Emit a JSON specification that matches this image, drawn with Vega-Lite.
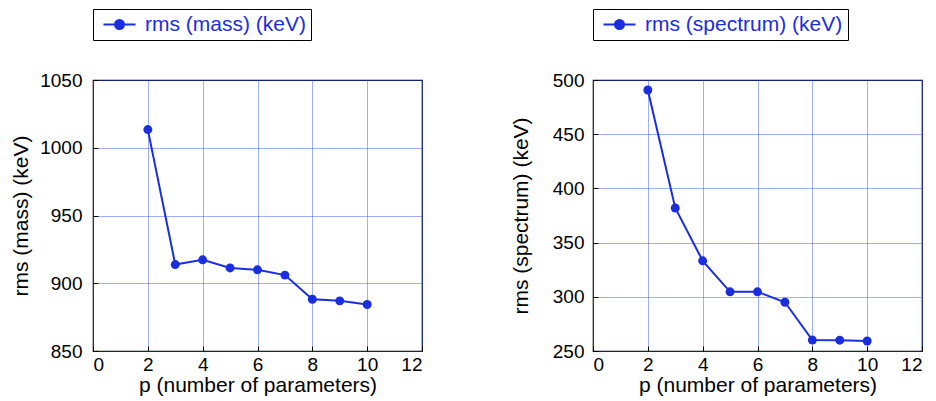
{
  "$schema": "https://vega.github.io/schema/vega-lite/v6.json",
  "padding": {"left": 10, "top": 7, "right": 5, "bottom": 4},
  "background": "white",
  "config": {
    "font": "Liberation Sans",
    "view": {"stroke": "black", "strokeWidth": 1.2},
    "axis": {
      "labelFontSize": 19,
      "titleFontSize": 21,
      "titleFontWeight": "normal",
      "labelColor": "black",
      "titleColor": "black",
      "domain": false,
      "ticks": true,
      "tickSize": -5,
      "tickColor": "black",
      "tickWidth": 1,
      "grid": true,
      "gridColor": "#2a4ef0",
      "gridDash": [1, 1],
      "gridWidth": 1,
      "gridOpacity": 0.9,
      "format": "d"
    },
    "axisX": {"labelPadding": 9, "titlePadding": 0},
    "axisY": {"labelPadding": 16},
    "legend": {
      "labelFontSize": 21,
      "labelColor": "#1a2ee0",
      "labelLimit": 400,
      "strokeColor": "black",
      "fillColor": "white",
      "padding": 5,
      "orient": "top",
      "offset": 40,
      "title": null,
      "symbolStrokeWidth": 2,
      "symbolSize": 100,
      "symbolOffset": 11,
      "labelOffset": 15
    }
  },
  "datasets": {
    "mass": [
      {"p": 2, "rms": 1013.4, "series": "rms (mass) (keV)"},
      {"p": 3, "rms": 913.8, "series": "rms (mass) (keV)"},
      {"p": 4, "rms": 917.3, "series": "rms (mass) (keV)"},
      {"p": 5, "rms": 911.3, "series": "rms (mass) (keV)"},
      {"p": 6, "rms": 909.9, "series": "rms (mass) (keV)"},
      {"p": 7, "rms": 906.0, "series": "rms (mass) (keV)"},
      {"p": 8, "rms": 888.2, "series": "rms (mass) (keV)"},
      {"p": 9, "rms": 887.0, "series": "rms (mass) (keV)"},
      {"p": 10, "rms": 884.3, "series": "rms (mass) (keV)"}
    ],
    "spec": [
      {"p": 2, "rms": 490.8, "series": "rms (spectrum) (keV)"},
      {"p": 3, "rms": 381.9, "series": "rms (spectrum) (keV)"},
      {"p": 4, "rms": 333.2, "series": "rms (spectrum) (keV)"},
      {"p": 5, "rms": 304.6, "series": "rms (spectrum) (keV)"},
      {"p": 6, "rms": 304.6, "series": "rms (spectrum) (keV)"},
      {"p": 7, "rms": 295.0, "series": "rms (spectrum) (keV)"},
      {"p": 8, "rms": 260.1, "series": "rms (spectrum) (keV)"},
      {"p": 9, "rms": 260.0, "series": "rms (spectrum) (keV)"},
      {"p": 10, "rms": 259.2, "series": "rms (spectrum) (keV)"}
    ]
  },
  "resolve": {"scale": {"color": "independent", "y": "independent"}, "legend": {"color": "independent"}},
  "spacing": 85,
  "hconcat": [
    {
      "width": 329,
      "height": 271,
      "data": {"name": "mass"},
      "encoding": {
        "x": {"field": "p", "type": "quantitative", "scale": {"domain": [0, 12], "nice": false}, "axis": {"values": [0, 2, 4, 6, 8, 10, 12], "title": "p (number of parameters)"}},
        "y": {"field": "rms", "type": "quantitative", "scale": {"domain": [850, 1050], "nice": false, "zero": false}, "axis": {"values": [850, 900, 950, 1000, 1050], "title": "rms (mass) (keV)", "titlePadding": 8}},
        "color": {"field": "series", "type": "nominal", "scale": {"range": ["#1a2ee0"]},
          "legend": {"symbolType": "M-3.2,0L3.2,0M-0.9,0A0.9,0.9,0,1,0,0.9,0A0.9,0.9,0,1,0,-0.9,0Z", "symbolFillColor": "#1a2ee0", "symbolStrokeColor": "#1a2ee0"}}
      },
      "layer": [
        {"mark": {"type": "line", "strokeWidth": 2}},
        {"mark": {"type": "point", "filled": true, "size": 80, "opacity": 1}}
      ]
    },
    {
      "width": 329,
      "height": 271,
      "data": {"name": "spec"},
      "encoding": {
        "x": {"field": "p", "type": "quantitative", "scale": {"domain": [0, 12], "nice": false}, "axis": {"values": [0, 2, 4, 6, 8, 10, 12], "title": "p (number of parameters)"}},
        "y": {"field": "rms", "type": "quantitative", "scale": {"domain": [250, 500], "nice": false, "zero": false}, "axis": {"values": [250, 300, 350, 400, 450, 500], "title": "rms (spectrum) (keV)", "titlePadding": 21, "labelPadding": 14}},
        "color": {"field": "series", "type": "nominal", "scale": {"range": ["#1a2ee0"]},
          "legend": {"symbolType": "M-3.2,0L3.2,0M-0.9,0A0.9,0.9,0,1,0,0.9,0A0.9,0.9,0,1,0,-0.9,0Z", "symbolFillColor": "#1a2ee0", "symbolStrokeColor": "#1a2ee0"}}
      },
      "layer": [
        {"mark": {"type": "line", "strokeWidth": 2}},
        {"mark": {"type": "point", "filled": true, "size": 80, "opacity": 1}}
      ]
    }
  ]
}
